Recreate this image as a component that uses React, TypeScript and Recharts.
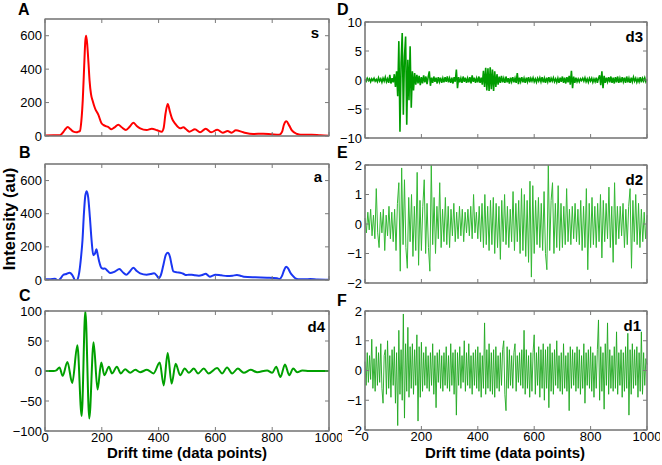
import React from 'react';
import { LineChart, Line, XAxis, YAxis } from 'recharts';

// drift time axis, shared by all six panels
const xTicks = [0, 200, 400, 600, 800, 1000];
const intensityTicks = [0, 200, 400, 600];
const d4Ticks = [-100, -50, 0, 50, 100];
const d3Ticks = [-10, -5, 0, 5, 10];
const detailTicks = [-2, -1, 0, 1, 2];

// s: measured signal [drift time, intensity]
const sPoints: [number, number][] = [
  [0, 3], [30, 4], [53, 5], [65, 25], [72, 42], [80, 54], [90, 40], [100, 26], [111, 22], [118, 26],
  [123, 30], [128, 90], [133, 216], [138, 420], [142, 570], [145, 600], [149, 540], [153, 440], [157, 330],
  [162, 250], [168, 210], [176, 166], [188, 126], [199, 76], [210, 62], [222, 54], [234, 40], [245, 52],
  [258, 68], [270, 52], [285, 36], [298, 55], [311, 80], [323, 60], [335, 46], [358, 36], [376, 44],
  [395, 34], [411, 26], [418, 50], [424, 130], [432, 192], [440, 145], [447, 106], [459, 72], [476, 46],
  [487, 52], [497, 40], [508, 26], [528, 40], [546, 22], [566, 44], [585, 22], [607, 38], [626, 20],
  [643, 30], [657, 20], [672, 34], [698, 22], [733, 12], [768, 14], [800, 10], [825, 8], [835, 26],
  [841, 66], [850, 88], [860, 62], [870, 32], [888, 12], [900, 8], [939, 8], [970, 4], [1000, 2],
];

// a: approximation
const aPoints: [number, number][] = [
  [0, 4], [20, 5], [35, 7], [47, -4], [55, 10], [64, 30], [75, 36], [87, 44], [95, 32], [101, 14],
  [107, -8], [113, -2], [120, 40], [127, 140], [132, 240], [137, 400], [142, 510], [147, 536], [152, 500],
  [158, 380], [164, 240], [170, 150], [176, 160], [181, 186], [186, 150], [191, 110], [199, 72], [205, 68],
  [211, 70], [220, 56], [229, 42], [245, 50], [262, 66], [275, 45], [286, 32], [298, 50], [311, 74],
  [322, 56], [335, 40], [358, 32], [372, 36], [384, 40], [393, 28], [400, 12], [408, 30], [418, 100],
  [425, 150], [432, 164], [440, 140], [446, 90], [452, 52], [465, 46], [476, 44], [487, 38], [497, 30],
  [506, 32], [516, 32], [528, 28], [542, 26], [554, 30], [566, 38], [574, 28], [581, 20], [590, 26],
  [599, 32], [620, 28], [641, 24], [660, 26], [676, 30], [688, 26], [700, 20], [740, 16], [782, 14],
  [817, 10], [826, 6], [835, 26], [842, 60], [849, 80], [856, 70], [864, 44], [872, 26], [880, 12],
  [892, 4], [915, 4], [934, 6], [960, 3], [1000, 2],
];

// d4 detail
const d4Points: [number, number][] = [
  [0, 0], [30, 0], [40, 1], [51, 6], [62, -8], [79, 15], [96, -20], [114, 43], [129, -75], [142, 100],
  [156, -79], [171, 48], [185, -31], [198, 14], [209, -7], [225, 7], [236, -4], [253, 7], [267, -4],
  [282, 3], [300, -3], [318, 2], [335, -2], [359, 2], [382, -4], [404, 14], [418, -24], [432, 30],
  [446, -21], [460, 12], [476, -7], [492, 4], [507, -3], [524, 4], [539, -4], [559, 4], [576, -4],
  [606, 5], [624, -4], [641, 6], [659, -4], [679, 4], [700, -3], [724, 2], [747, -2], [782, 1],
  [800, -3], [814, 7], [829, -10], [845, 11], [860, -7], [874, 4], [888, -2], [906, 1], [930, 0], [1000, 0],
];

// d3 detail, one value every 4 data points
const d3Values = [
  0.1, -0.2, 0.3, -0.1, 0.2, -0.3, 0.2, -0.1, 0.3, -0.2,
  0.1, -0.3, 0.4, -0.2, 0.2, -0.4, 0.3, -0.2, 0.5, -0.3,
  0.2, -0.5, 0.9, -0.6, 0.3, -0.4, 1.0, -1.2, 1.5, -2.8,
  6.7, -8.9, 3.0, 8.1, -6.0, 4.0, 7.5, -7.7, 3.5, -3.5,
  5.8, -4.8, 1.5, -1.8, 1.2, -0.8, 0.9, -0.6, 0.7, -0.9,
  0.5, -0.6, 0.8, -0.4, 0.6, -0.7, 0.5, 1.5, -1.0, 0.4,
  -0.5, 0.6, -0.3, 0.4, -0.6, 0.5, -0.3, 0.4, -0.5, 0.3,
  -0.4, 0.5, -0.3, 0.6, -0.4, 0.3, -0.5, 0.4, -0.6, 0.5,
  -0.3, 1.8, -1.4, 0.5, -0.4, 0.3, -0.5, 0.6, -0.3, 0.4,
  -0.5, 0.3, -0.4, 0.5, -0.6, 0.8, -0.3, 0.4, -0.5, 0.3,
  -0.4, 0.6, -0.5, 0.4, -0.8, 1.6, -1.2, 2.1, -1.8, 2.0,
  -1.9, 2.2, -1.6, 1.8, -1.9, 1.5, -1.2, 1.0, -0.8, 0.6,
  -0.5, 0.7, -0.4, 0.3, -0.5, 0.6, -0.4, 0.3, -0.6, 0.4,
  -0.3, 0.5, -0.4, 0.3, -0.5, 1.2, -0.7, 0.4, -0.3, 0.5,
  -0.4, 0.3, -0.5, 0.4, -0.3, 0.5, -0.4, 0.3, -0.2, 0.4,
  -0.3, 0.2, -0.4, 0.3, -0.2, 0.4, -0.3, 0.5, -0.4, 0.3,
  -0.5, 0.4, -0.3, 0.5, -0.4, 0.3, -0.2, 0.4, -0.3, 0.2,
  -0.4, 0.3, -0.5, 0.4, -0.3, 0.6, -0.5, 0.4, -0.6, 0.5,
  -0.4, 0.7, -0.8, 1.6, -1.4, 0.6, -0.5, 0.4, -0.3, 0.2,
  -0.3, 0.2, -0.1, 0.3, -0.2, 0.4, -0.3, 0.2, -0.4, 0.3,
  -0.2, 0.3, -0.4, 0.2, -0.3, 0.4, -0.5, 0.3, 0.8, -0.9,
  1.5, -1.4, 0.7, -0.5, 0.4, -0.3, 0.5, -0.4, 0.6, -0.5,
  0.4, -0.6, 0.5, -0.4, 0.6, -0.5, 0.3, -0.4, 0.5, -0.3,
  0.4, -0.5, 0.6, -0.4, 0.3, -0.5, 0.4, -0.3, 0.5, -0.2,
  0.3, -0.4, 0.2, -0.3, 0.5, -0.4, 0.3, -0.2, 0.4, -0.3,
  0.1,
];

// d2 detail, one value every 5 data points
const d2Values = [
  0.2, -0.3, 0.4, -0.2, 0.5, -0.4, 0.3, -0.5, 1.2, -0.3,
  -0.8, 0.4, -0.3, 0.5, -0.9, 0.3, -0.4, 0.6, -0.5, 0.4,
  -0.6, 0.5, -0.9, 0.7, 1.4, -1.6, 1.9, -0.7, 1.5, -0.8,
  -1.5, 0.9, -0.6, 1.0, -1.1, 0.6, -0.9, 1.75, -1.4, 0.8,
  -0.9, 0.6, 1.5, -1.0, 0.7, -0.8, -1.6, 2.0, -0.7, 0.9,
  -1.0, 0.6, -0.5, 1.4, -0.8, 0.5, -0.6, 0.9, -0.7, 0.6,
  -0.8, 0.5, -0.4, 0.7, -0.6, 0.4, -0.5, 0.6, -0.4, 0.5,
  -0.6, 0.4, -0.3, 0.5, -0.4, 0.6, -0.5, 1.0, -0.3, 0.4,
  -0.5, 0.6, -0.6, 0.7, -0.8, 1.0, -0.7, 0.6, -0.9, 0.8,
  -0.7, 0.9, -1.0, 0.7, -0.8, 0.6, -1.2, 0.8, -0.6, 1.0,
  -0.7, 0.6, -0.8, 0.5, -0.6, 1.1, -0.9, 0.7, -0.6, 0.8,
  -1.0, 1.2, -0.9, 1.0, -1.1, 0.8, -1.3, 1.45, -1.8, 1.3,
  -1.0, 0.8, -0.7, 0.9, -0.8, 0.7, -0.9, 1.1, -1.0, -1.55,
  2.0, -0.9, 0.8, 1.4, -1.0, 0.7, -0.8, 1.3, -0.9, 0.7,
  -0.8, 0.6, -0.7, 1.2, -0.6, 0.5, -0.7, 0.6, -0.5, 0.7,
  -0.6, 0.5, -0.7, 0.8, -0.9, 0.6, -0.8, 1.2, -1.55, 0.7,
  -0.8, 0.9, -0.7, 0.6, -0.8, 0.7, -0.6, 1.0, -1.15, 0.8,
  -0.6, 0.7, -0.5, 1.25, -0.8, 0.6, -1.3, 1.4, -0.7, 0.6,
  -0.5, 0.6, -0.4, 0.7, -0.8, 0.5, -0.7, 0.6, 1.2, -1.5,
  0.8, -0.6, 1.0, -0.7, 0.7, -0.8, 0.5, -0.6, 0.4, -0.5,
  0.3,
];

// d1 detail, one value every 4 data points
const d1Values = [
  0.3, -0.5, 0.6, -0.4, 0.5, -0.3, 1.05, -0.6, 0.4, -0.7,
  0.8, -0.5, 0.6, -0.4, 0.9, -0.6, -1.1, 0.5, 0.7, -0.8,
  1.0, -0.6, 0.5, -0.9, 0.7, -0.5, 0.8, -1.1, 0.6, -1.85,
  1.35, -0.8, 0.7, -1.0, 1.9, -1.6, 0.9, -0.7, 1.45, -0.9,
  0.8, -0.6, 0.9, -0.8, 0.7, -0.5, 1.2, -1.7, 0.8, -0.9,
  0.95, -0.7, 0.6, -0.5, 0.8, -0.6, 0.5, -0.7, 0.6, -0.5,
  0.9, -0.8, 0.5, -1.25, 0.6, -0.4, 0.7, -0.6, 0.5, -0.7,
  0.6, -0.5, 0.8, -0.6, 0.5, -0.7, 0.9, -0.5, 0.6, -0.8,
  0.7, -1.5, 0.6, -0.5, 0.8, -0.6, 0.5, -0.4, 1.0, -0.7,
  0.6, -0.5, 0.9, -0.6, 0.5, -0.8, 0.6, -0.5, 0.7, -0.6,
  0.8, -0.7, 0.6, -0.9, 0.5, -0.6, 1.6, -0.8, 0.7, -0.6,
  0.9, -0.7, 0.6, -0.8, 0.7, -0.9, 0.8, -0.6, 0.5, -0.7,
  0.6, -0.5, 0.7, 1.0, -0.8, -1.35, 0.8, -0.6, 0.7, -0.5,
  0.5, -0.6, 0.6, 0.9, -0.7, 0.5, -0.4, 0.6, -0.5, 0.7,
  -0.6, 1.35, -0.8, 0.7, -0.6, 0.5, -0.9, 0.6, -0.7, 0.6,
  1.2, -0.8, 0.6, -0.5, 0.8, -0.9, 0.7, -0.6, 0.9, -1.0,
  0.7, -0.6, 0.8, -1.25, 0.9, -0.7, 0.6, -0.8, 0.7, -0.5,
  1.0, -0.6, 0.5, -0.7, 0.6, -0.8, 0.9, -0.6, 0.5, -0.7,
  0.6, -1.35, 0.8, -0.6, 0.7, -0.5, 0.6, -0.7, 0.8, -0.6,
  0.7, -0.8, 0.5, -0.6, 0.9, -1.1, 0.6, -0.5, 0.7, -0.6,
  0.8, -0.7, 0.6, -0.9, 0.5, -0.6, 0.7, 1.7, -1.0, 0.8,
  -0.7, 0.6, -1.3, 0.9, -0.5, 1.6, -0.8, 0.7, -0.6, 0.5,
  -0.7, 0.8, -0.6, 1.3, -0.8, 0.6, -0.5, 0.7, -0.9, 0.6,
  -0.7, 0.8, -0.6, 1.25, -1.5, 0.7, -0.8, 0.9, -0.6, 0.7,
  -0.5, 0.8, -0.9, 0.6, -0.7, 1.3, -0.8, 0.6, -0.5, 0.4,
  0.2,
];

const fromPairs = (pts: [number, number][]) => pts.map(([t, v]) => ({ t, v }));
const fromSteps = (vals: number[], step: number) => vals.map((v, i) => ({ t: i * step, v }));

const FONT = '"Liberation Sans", Arial, Helvetica, sans-serif';
const AXIS = '#7a7a7a';
const PAD = { top: 11, right: 12, bottom: 18, left: 44 };
const minus = (v: number) => String(v).replace('-', '\u2212');
const blank = () => '';

type Box = [number, number, number, number];

// plot rectangles [left, top, right, bottom] in page pixels
const boxA: Box = [45, 19, 329, 136];
const boxB: Box = [45, 164, 329, 280];
const boxC: Box = [45, 311, 329, 431];
const boxD: Box = [365, 22, 647, 138];
const boxE: Box = [365, 165, 647, 283];
const boxF: Box = [365, 311, 647, 430];

interface PanelProps {
  box: Box;
  data: { t: number; v: number }[];
  domain: [number, number];
  ticks: number[];
  color: string;
  lineWidth: number;
  curve: 'monotone' | 'linear';
  xLabels?: boolean;
}

function Panel({ box, data, domain, ticks, color, lineWidth, curve, xLabels }: PanelProps) {
  const [x0, y0, x1, y1] = box;
  const w = x1 - x0 + PAD.left + PAD.right + 2;
  const h = y1 - y0 + PAD.top + PAD.bottom + 2;
  const tickStyle = { fontSize: 13, fill: '#000', fontFamily: FONT };
  return (
    <div style={{ position: 'absolute', left: x0 - PAD.left - 1, top: y0 - PAD.top - 1 }}>
      <LineChart width={w} height={h} margin={PAD} data={data}>
        <XAxis xAxisId="b" dataKey="t" type="number" domain={[0, 1000]} ticks={xTicks} interval={0}
          height={1} stroke={AXIS} tickSize={-4} tickMargin={6} tick={tickStyle}
          tickFormatter={xLabels ? undefined : blank} />
        <XAxis xAxisId="t" orientation="top" dataKey="t" type="number" domain={[0, 1000]} ticks={xTicks}
          interval={0} height={1} stroke={AXIS} tickSize={-4} tick={tickStyle} tickFormatter={blank} />
        <YAxis yAxisId="l" type="number" domain={domain} ticks={ticks} interval={0} allowDataOverflow
          width={1} stroke={AXIS} tickSize={-4} tickMargin={7} tick={tickStyle} tickFormatter={minus} />
        <YAxis yAxisId="r" orientation="right" type="number" domain={domain} ticks={ticks} interval={0}
          allowDataOverflow width={1} stroke={AXIS} tickSize={-4} tick={tickStyle} tickFormatter={blank} />
        <Line xAxisId="b" yAxisId="l" dataKey="v" type={curve} stroke={color} strokeWidth={lineWidth}
          dot={false} isAnimationActive={false} />
      </LineChart>
    </div>
  );
}

export default function App() {
  const bold = { fontFamily: FONT, fontWeight: 700, fill: '#000' };
  const frames = [boxA, boxB, boxC, boxD, boxE, boxF];
  return (
    <div style={{ position: 'absolute', left: 0, top: 0, width: 662, height: 465, background: '#fff', fontFamily: FONT }}>
      <Panel box={boxA} data={fromPairs(sPoints)} domain={[0, 700]} ticks={intensityTicks}
        color="#ff0000" lineWidth={2} curve="monotone" />
      <Panel box={boxB} data={fromPairs(aPoints)} domain={[0, 700]} ticks={intensityTicks}
        color="#1a36f2" lineWidth={2} curve="monotone" />
      <Panel box={boxC} data={fromPairs(d4Points)} domain={[-100, 100]} ticks={d4Ticks}
        color="#00a000" lineWidth={2} curve="monotone" xLabels />
      <Panel box={boxD} data={fromSteps(d3Values, 4)} domain={[-10, 10]} ticks={d3Ticks}
        color="#009c00" lineWidth={1.6} curve="linear" />
      <Panel box={boxE} data={fromSteps(d2Values, 5)} domain={[-2, 2]} ticks={detailTicks}
        color="#33b833" lineWidth={1} curve="linear" />
      <Panel box={boxF} data={fromSteps(d1Values, 4)} domain={[-2, 2]} ticks={detailTicks}
        color="#1fa81f" lineWidth={0.9} curve="linear" xLabels />
      <svg width={662} height={465} style={{ position: 'absolute', left: 0, top: 0, pointerEvents: 'none' }}>
        {frames.map(([x0, y0, x1, y1], i) => (
          <rect key={i} x={x0} y={y0} width={x1 - x0} height={y1 - y0}
            fill="none" stroke={AXIS} strokeWidth={1.2} />
        ))}
        <g style={bold} fontSize={16}>
          <text x={18} y={15}>A</text>
          <text x={19} y={158}>B</text>
          <text x={19} y={301}>C</text>
          <text x={337} y={15}>D</text>
          <text x={337} y={158}>E</text>
          <text x={337} y={306}>F</text>
        </g>
        <g style={bold} fontSize={15} textAnchor="end">
          <text x={319} y={38}>s</text>
          <text x={322} y={182}>a</text>
          <text x={325} y={332}>d4</text>
          <text x={643} y={42}>d3</text>
          <text x={643} y={185}>d2</text>
          <text x={641} y={331}>d1</text>
        </g>
        <g style={bold} fontSize={15} textAnchor="middle">
          <text x={187} y={458}>Drift time (data points)</text>
          <text x={505} y={458}>Drift time (data points)</text>
        </g>
        <text style={bold} fontSize={16.5} textAnchor="middle" transform="translate(15,219) rotate(-90)">
          Intensity (au)
        </text>
      </svg>
    </div>
  );
}
